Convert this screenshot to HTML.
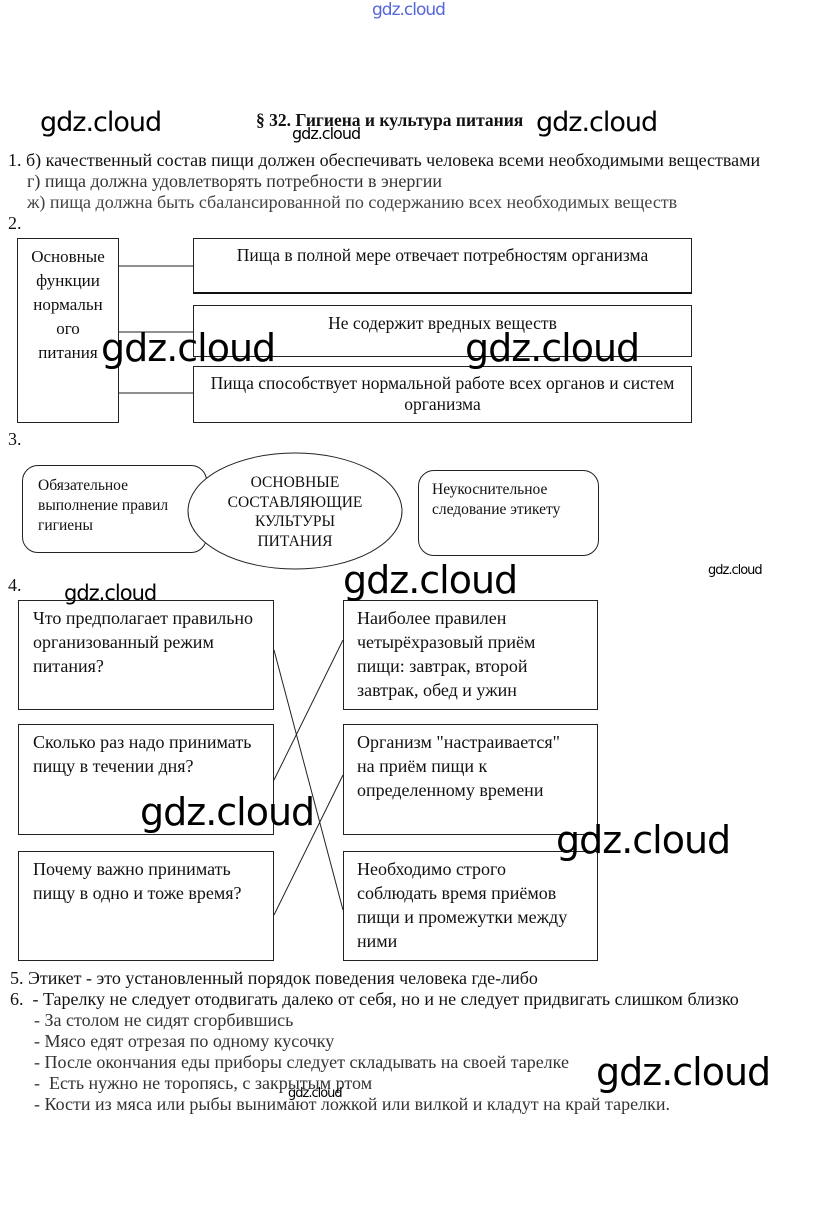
<!DOCTYPE html>
<html><head><meta charset="utf-8"><style>
body{margin:0;width:821px;height:1225px;background:#fff;position:relative;overflow:hidden;font-family:"Liberation Serif",serif;color:#111}
.a{position:absolute;white-space:nowrap}
.t{font-size:18px;line-height:21px}
.b{position:absolute;border:1px solid #222;box-sizing:border-box;font-size:17.5px;line-height:24px;white-space:nowrap}
.s{font-size:18px}
.w{position:absolute;font-family:"DejaVu Sans","Liberation Sans",sans-serif;color:#000;white-space:nowrap;letter-spacing:-1px}
.w1{font-size:27px}
.w2{font-size:38px}
.ws{font-size:14px}
</style></head><body>
<div class="w" style="left:372px;top:0px;font-size:17px;color:#5566dd">gdz.cloud</div>
<div class="a t" style="left:256px;top:110px;font-weight:bold;font-size:17.5px">§ 32. Гигиена и культура питания</div>
<div class="w w1" style="left:40px;top:107px">gdz.cloud</div>
<div class="w w1" style="left:536px;top:107px">gdz.cloud</div>
<div class="w ws" style="left:292px;top:124px;font-size:16px">gdz.cloud</div>
<div class="a t" style="left:8px;top:150px">1. б) качественный состав пищи должен обеспечивать человека всеми необходимыми веществами</div>
<div class="a t" style="left:27px;top:171px;color:#333">г) пища должна удовлетворять потребности в энергии</div>
<div class="a t" style="left:27px;top:192px;color:#444">ж) пища должна быть сбалансированной по содержанию всех необходимых веществ</div>
<div class="a t" style="left:8px;top:213px">2.</div>
<div class="b" style="left:17px;top:238px;width:102px;height:185px;text-align:center;padding-top:6px;font-size:17px">Основные<br>функции<br>нормальн<br>ого<br>питания</div>
<div class="b" style="left:193px;top:238px;width:499px;height:56px;text-align:center;border-bottom:2px solid #111;padding-top:4px">Пища в полной мере отвечает потребностям организма</div>
<div class="b" style="left:193px;top:305px;width:499px;height:52px;text-align:center;padding-top:5px">Не содержит вредных веществ</div>
<div class="b" style="left:193px;top:366px;width:499px;height:57px;text-align:center;line-height:21px;padding-top:6px">Пища способствует нормальной работе всех органов и систем<br>организма</div>
<svg class="a" style="left:0;top:0" width="821" height="1225">
<g stroke="#222" stroke-width="1">
<line x1="119" y1="266" x2="193" y2="266"/>
<line x1="119" y1="332" x2="193" y2="332"/>
<line x1="119" y1="393" x2="193" y2="393"/>
</g>
</svg>
<div class="w w2" style="left:101px;top:326px">gdz.cloud</div>
<div class="w w2" style="left:465px;top:326px">gdz.cloud</div>
<div class="a t" style="left:8px;top:429px">3.</div>
<div class="b" style="left:22px;top:465px;width:185px;height:88px;border-radius:16px;font-size:15.5px;line-height:20px;padding:10px 0 0 15px">Обязательное<br>выполнение правил<br>гигиены</div>
<div class="b" style="left:418px;top:470px;width:181px;height:86px;border-radius:16px;font-size:15.5px;line-height:20px;padding:9px 0 0 13px">Неукоснительное<br>следование этикету</div>
<svg class="a" style="left:0;top:0" width="821" height="600"><ellipse cx="295" cy="511" rx="107" ry="58" fill="#fff" stroke="#222"/></svg>
<div class="a" style="left:188px;top:473px;width:214px;text-align:center;font-size:15.5px;line-height:19.5px">ОСНОВНЫЕ<br>СОСТАВЛЯЮЩИЕ<br>КУЛЬТУРЫ<br>ПИТАНИЯ</div>
<div class="a t" style="left:8px;top:575px">4.</div>
<div class="w ws" style="left:708px;top:563px;font-size:13px">gdz.cloud</div>
<div class="b s" style="left:18px;top:600px;width:256px;height:110px;padding:5px 0 0 14px">Что предполагает правильно<br>организованный режим<br>питания?</div>
<div class="b s" style="left:18px;top:724px;width:256px;height:111px;padding:5px 0 0 14px">Сколько раз надо принимать<br>пищу в течении дня?</div>
<div class="b s" style="left:18px;top:851px;width:256px;height:110px;padding:5px 0 0 14px">Почему важно принимать<br>пищу в одно и тоже время?</div>
<div class="b s" style="left:343px;top:600px;width:255px;height:110px;padding:5px 0 0 13px">Наиболее правилен<br>четырёхразовый приём<br>пищи: завтрак, второй<br>завтрак, обед и ужин</div>
<div class="b s" style="left:343px;top:724px;width:255px;height:111px;padding:5px 0 0 13px">Организм "настраивается"<br>на приём пищи к<br>определенному времени</div>
<div class="b s" style="left:343px;top:851px;width:255px;height:110px;padding:5px 0 0 13px">Необходимо строго<br>соблюдать время приёмов<br>пищи и промежутки между<br>ними</div>
<svg class="a" style="left:0;top:0" width="821" height="1225"><g stroke="#222"><line x1="274" y1="650" x2="343" y2="910"/><line x1="274" y1="780" x2="343" y2="640"/><line x1="274" y1="915" x2="343" y2="775"/></g></svg>
<div class="w" style="left:64px;top:581px;font-size:21px">gdz.cloud</div>
<div class="w w2" style="left:343px;top:558px">gdz.cloud</div>
<div class="w w2" style="left:140px;top:790px">gdz.cloud</div>
<div class="w w2" style="left:556px;top:818px">gdz.cloud</div>
<div class="a t" style="left:10px;top:968px">5. Этикет - это установленный порядок поведения человека где-либо</div>
<div class="a t" style="left:10px;top:989px">6.&nbsp; - Тарелку не следует отодвигать далеко от себя, но и не следует придвигать слишком близко</div>
<div class="a t" style="left:34px;top:1010px;color:#333">- За столом не сидят сгорбившись</div>
<div class="a t" style="left:34px;top:1031px;color:#333">- Мясо едят отрезая по одному кусочку</div>
<div class="a t" style="left:34px;top:1052px;color:#333">- После окончания еды приборы следует складывать на своей тарелке</div>
<div class="a t" style="left:34px;top:1073px;color:#333">-&nbsp; Есть нужно не торопясь, с закрытым ртом</div>
<div class="a t" style="left:34px;top:1094px;color:#333">- Кости из мяса или рыбы вынимают ложкой или вилкой и кладут на край тарелки.</div>
<div class="w ws" style="left:288px;top:1086px;font-size:13px">gdz.cloud</div>
<div class="w w2" style="left:596px;top:1050px">gdz.cloud</div>
</body></html>
